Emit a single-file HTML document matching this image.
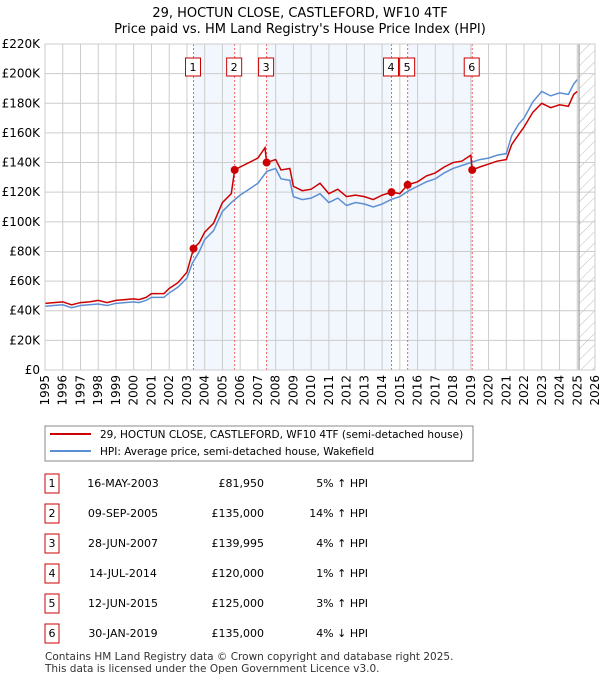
<!DOCTYPE html>
<html><head><meta charset="utf-8"><style>
body{margin:0;background:#fff;}
svg{font-family:"DejaVu Sans","Liberation Sans",sans-serif;}
</style></head><body>
<svg id="c" width="600" height="680" viewBox="0 0 600 680" xmlns="http://www.w3.org/2000/svg">
<text x="300" y="17" text-anchor="middle" font-size="13">29, HOCTUN CLOSE, CASTLEFORD, WF10 4TF</text>
<text x="300" y="33" text-anchor="middle" font-size="13">Price paid vs. HM Land Registry's House Price Index (HPI)</text>
<g id="plot"></g>
<g>
<rect x="45" y="426" width="428" height="35" fill="#fff" stroke="#888"/>
<line x1="50" y1="434" x2="91" y2="434" stroke="#cc0000" stroke-width="2"/>
<text x="100" y="438" font-size="10.5">29, HOCTUN CLOSE, CASTLEFORD, WF10 4TF (semi-detached house)</text>
<line x1="50" y1="451" x2="91" y2="451" stroke="#5b8fd4" stroke-width="2"/>
<text x="100" y="455" font-size="10.5">HPI: Average price, semi-detached house, Wakefield</text>
</g>
<g id="table"></g>
<text x="45" y="660" font-size="10.5" fill="#333">Contains HM Land Registry data © Crown copyright and database right 2025.</text>
<text x="45" y="672" font-size="10.5" fill="#333">This data is licensed under the Open Government Licence v3.0.</text>
</svg>
<script>
const hpiYears=[1995,1995.5,1996,1996.5,1997,1997.5,1998,1998.5,1999,1999.5,2000,2000.3,2000.7,2001,2001.7,2002,2002.5,2003,2003.3,2003.7,2004,2004.5,2005,2005.5,2006,2006.5,2007,2007.5,2008,2008.3,2008.8,2009,2009.5,2010,2010.5,2011,2011.5,2012,2012.5,2013,2013.5,2014,2014.5,2015,2015.5,2016,2016.5,2017,2017.5,2018,2018.5,2019,2019.5,2020,2020.5,2021,2021.3,2021.7,2022,2022.5,2023,2023.5,2024,2024.5,2024.8,2025];
const hpiValues=[43,43.5,44,42,43.5,44,44.5,43.5,45,45.5,46,45.5,47,49,49,52,56,62,72,80,88,94,107,113,118,122,126,134,136,129,128,117,115,116,119,113,116,111,113,112,110,112,115,117,121,124,127,129,133,136,138,140,142,143,145,146,158,166,170,181,188,185,187,186,193,196];
const propYears=[1995,1995.5,1996,1996.5,1997,1997.5,1998,1998.5,1999,1999.5,2000,2000.3,2000.7,2001,2001.7,2002,2002.5,2003,2003.37,2003.7,2004,2004.5,2005,2005.5,2005.69,2006,2006.5,2007,2007.4,2007.49,2008,2008.3,2008.8,2009,2009.5,2010,2010.5,2011,2011.5,2012,2012.5,2013,2013.5,2014,2014.53,2015,2015.44,2016,2016.5,2017,2017.5,2018,2018.5,2019,2019.08,2019.5,2020,2020.5,2021,2021.3,2021.7,2022,2022.5,2023,2023.5,2024,2024.5,2024.8,2025];
const propValues=[45,45.5,46,44,45.5,46,47,45.5,47,47.5,48,47.5,49,51.5,51.5,55,59,66,81.95,86,93,99,113,119,135,137,140,143,150,140,142,135,136,124,121,122,126,119,122,117,118,117,115,118,120,119,125,127,131,133,137,140,141,145,135,137,139,141,142,152,159,164,174,180,177,179,178,186,188];
const saleIds=["1","2","3","4","5","6"];
const saleYears=[2003.37,2005.69,2007.49,2014.53,2015.44,2019.08];
const salePrices=[81950,135000,139995,120000,125000,135000];
const saleDates=["16-MAY-2003","09-SEP-2005","28-JUN-2007","14-JUL-2014","12-JUN-2015","30-JAN-2019"];
const salePriceLabels=["£81,950","£135,000","£139,995","£120,000","£125,000","£135,000"];
const saleHpiLabels=["5% ↑ HPI","14% ↑ HPI","4% ↑ HPI","1% ↑ HPI","3% ↑ HPI","4% ↓ HPI"];
const yTicks=[0,20,40,60,80,100,120,140,160,180,200,220];
const yTickLabels=["£0","£20K","£40K","£60K","£80K","£100K","£120K","£140K","£160K","£180K","£200K","£220K"];
const xTicks=[1995,1996,1997,1998,1999,2000,2001,2002,2003,2004,2005,2006,2007,2008,2009,2010,2011,2012,2013,2014,2015,2016,2017,2018,2019,2020,2021,2022,2023,2024,2025,2026];

const X0=45,X1=595,Y0=370,Y1=44;
const xs=y=>X0+(y-1995)/(2026-1995)*(X1-X0);
const ys=v=>Y0-v/220*(Y0-Y1);
const NS="http://www.w3.org/2000/svg";
const plot=document.getElementById('plot');
function mk(tag,attrs,parent){const e=document.createElementNS(NS,tag);for(const k in attrs)e.setAttribute(k,attrs[k]);(parent||plot).appendChild(e);return e;}

for(let i=0;i<saleYears.length-1;i+=2){
  const r=mk('rect',{x:xs(saleYears[i]),y:Y1,width:xs(saleYears[i+1])-xs(saleYears[i]),height:Y0-Y1,fill:'#f2f6fd'});
  
  
}
const defs=mk('defs',{});
const pat=mk('pattern',{id:'hatch',width:8,height:8,patternUnits:'userSpaceOnUse',patternTransform:'rotate(45)'},defs);
mk('line',{x1:0,y1:0,x2:0,y2:8,stroke:'#bbb','stroke-width':1},pat);
const hr=mk('rect',{x:xs(2025.1),y:Y1,width:X1-xs(2025.1),height:Y0-Y1,fill:'url(#hatch)'});


yTicks.forEach((t,i)=>{
  const l=mk('line',{x1:X0,x2:X1,y1:ys(t),y2:ys(t),stroke:'#ccc','stroke-width':1});
  
  
  const tx=mk('text',{x:40,y:ys(t)+4,'text-anchor':'end','font-size':12});
  
  
  tx.textContent=yTickLabels[i];
});
xTicks.forEach(t=>{
  const l=mk('line',{x1:xs(t),x2:xs(t),y1:Y1,y2:Y0,stroke:'#ccc','stroke-width':1});
  
  
  const tx=mk('text',{x:0,y:0,'text-anchor':'end','font-size':12,transform:`translate(${xs(t)+4},375) rotate(-90)`});
  
  
  tx.textContent=t;
});
const nowL=mk('line',{x1:xs(2025.1),x2:xs(2025.1),y1:Y1,y2:Y0,stroke:'#888','stroke-width':1});


saleYears.forEach((s,i)=>{
  const l=mk('line',{x1:xs(s),x2:xs(s),y1:Y1,y2:Y0,stroke:'#f06060','stroke-width':1,'stroke-dasharray':'2,2'});
  
  
  const b=mk('rect',{x:xs(s)-8,y:58,width:15,height:18,fill:'#fff',stroke:'#cc0000'});
  
  
  const t=mk('text',{x:xs(s)-0.5,y:71,'text-anchor':'middle','font-size':11});
  
  
  t.textContent=saleIds[i];
});
const hp=mk('polyline',{points:hpiYears.map((y,i)=>xs(y)+','+ys(hpiValues[i])).join(' '),fill:'none',stroke:'#5b8fd4','stroke-width':1.5});


const pp=mk('polyline',{points:propYears.map((y,i)=>xs(y)+','+ys(propValues[i])).join(' '),fill:'none',stroke:'#cc0000','stroke-width':1.5});


saleYears.forEach((s,i)=>{
  const c=mk('circle',{cx:xs(s),cy:ys(salePrices[i]/1000),r:4,fill:'#cc0000'});
  
  
});
const ax=mk('rect',{x:X0,y:Y1,width:X1-X0,height:Y0-Y1,fill:'none',stroke:'#ccc'});


const tb=document.getElementById('table');
saleIds.forEach((id,i)=>{
  const cy=483+i*30;
  const b=mk('rect',{x:45,y:cy-9,width:14,height:19,fill:'#fff',stroke:'#cc0000'},tb);
  
  
  const t0=mk('text',{x:52,y:cy+4,'text-anchor':'middle','font-size':11},tb);
  
  
  t0.textContent=id;
  const t1=mk('text',{x:123,y:cy+4,'text-anchor':'middle','font-size':11},tb);
  
  
  t1.textContent=saleDates[i];
  const t2=mk('text',{x:264,y:cy+4,'text-anchor':'end','font-size':11},tb);
  
  
  t2.textContent=salePriceLabels[i];
  const t3=mk('text',{x:368,y:cy+4,'text-anchor':'end','font-size':11},tb);
  
  
  t3.textContent=saleHpiLabels[i];
});
</script>
</body></html>
